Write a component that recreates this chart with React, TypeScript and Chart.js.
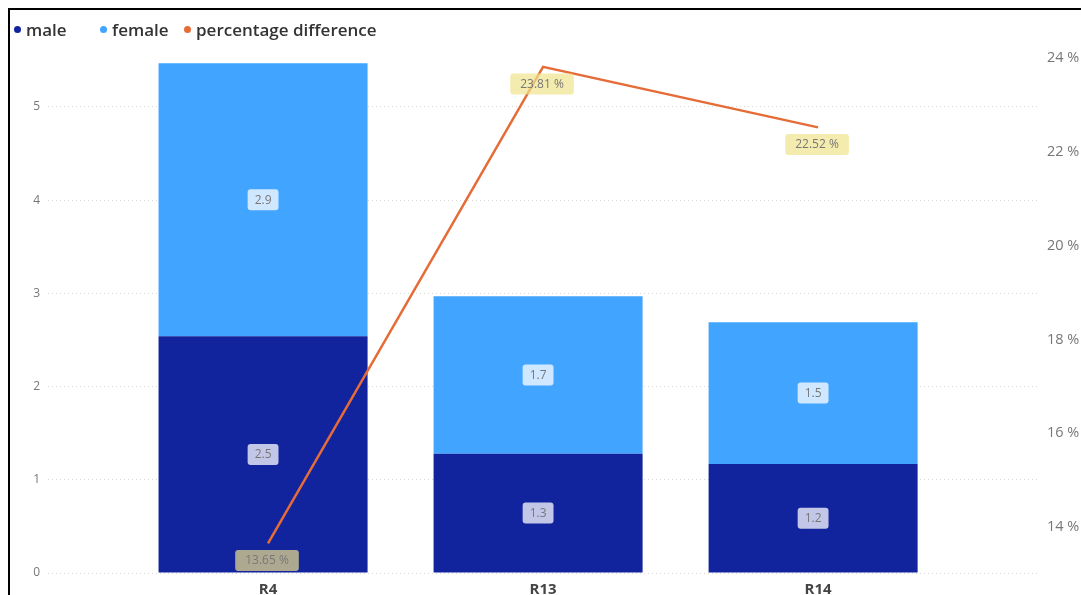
import React, { useEffect, useRef } from "react";
import { Chart, registerables } from "chart.js";

Chart.register(...registerables);

// ---- data ----
const categories = ["R4", "R13", "R14"];
const maleValues = [2.54, 1.28, 1.17];
const femaleValues = [2.93, 1.69, 1.52];
const pctDifference = [13.65, 23.81, 22.52];
const leftTickValues = [0, 1, 2, 3, 4, 5];
const rightTickValues = [14, 16, 18, 20, 22, 24];
const seriesNames = ["male", "female", "percentage difference"];

// ---- style ----
const MALE = "#12239E";
const FEMALE = "#41A4FF";
const ORANGE = "#E66C37";
const FONT = "'Open Sans', 'Noto Sans', 'DejaVu Sans', sans-serif";

function roundRect(ctx: CanvasRenderingContext2D, x: number, y: number, w: number, h: number, r: number) {
  ctx.beginPath();
  ctx.moveTo(x + r, y);
  ctx.lineTo(x + w - r, y);
  ctx.quadraticCurveTo(x + w, y, x + w, y + r);
  ctx.lineTo(x + w, y + h - r);
  ctx.quadraticCurveTo(x + w, y + h, x + w - r, y + h);
  ctx.lineTo(x + r, y + h);
  ctx.quadraticCurveTo(x, y + h, x, y + h - r);
  ctx.lineTo(x, y + r);
  ctx.quadraticCurveTo(x, y, x + r, y);
  ctx.closePath();
}

const labelPlugin = {
  id: "valueLabels",
  afterDatasetsDraw(chart: any) {
    const ctx: CanvasRenderingContext2D = chart.ctx;
    ctx.save();
    ctx.font = `12px ${FONT}`;
    ctx.textAlign = "center";
    ctx.textBaseline = "middle";
    chart.data.datasets.forEach((ds: any, di: number) => {
      const meta = chart.getDatasetMeta(di);
      meta.data.forEach((el: any, i: number) => {
        const raw = ds.data[i];
        const v = typeof raw === "object" ? raw.y : raw;
        let text: string;
        let cx: number;
        let cy: number;
        let bg: string;
        let pad: number;
        if (ds.type === "line") {
          text = v.toFixed(2) + " %";
          cx = el.x - 1;
          cy = el.y + 17;
          bg = "rgba(240, 226, 140, 0.7)";
          pad = 20;
        } else {
          text = v.toFixed(1);
          cx = el.x;
          cy = (el.y + el.base) / 2;
          bg = "rgba(255, 255, 255, 0.75)";
          pad = 14;
        }
        const tw = ctx.measureText(text).width;
        const w = tw + pad;
        const h = 21;
        ctx.fillStyle = bg;
        roundRect(ctx, cx - w / 2, cy - h / 2, w, h, 3);
        ctx.fill();
        ctx.fillStyle = "#777";
        ctx.fillText(text, cx, cy + 0.5);
      });
    });
    ctx.restore();
  },
};

const indexTicks = (axis: any) => {
  axis.ticks = categories.map((_, i) => ({ value: i }));
};

export default function App() {
  const ref = useRef<HTMLCanvasElement | null>(null);

  useEffect(() => {
    if (!ref.current) return;
    const chart = new Chart(ref.current, {
      type: "bar",
      data: {
        datasets: [
          {
            type: "line",
            label: seriesNames[2],
            data: pctDifference.map((v, i) => ({ x: i, y: v })),
            xAxisID: "x",
            yAxisID: "y2",
            borderColor: ORANGE,
            backgroundColor: ORANGE,
            borderWidth: 2.5,
            pointRadius: 0,
            tension: 0,
            order: 0,
          } as any,
          {
            type: "bar",
            label: seriesNames[0],
            data: maleValues.map((v, i) => ({ x: i, y: v })),
            xAxisID: "xBar",
            yAxisID: "y",
            stack: "gender",
            grouped: false,
            backgroundColor: MALE,
            barPercentage: 0.76,
            categoryPercentage: 1,
            order: 1,
          },
          {
            type: "bar",
            label: seriesNames[1],
            data: femaleValues.map((v, i) => ({ x: i, y: v })),
            xAxisID: "xBar",
            yAxisID: "y",
            stack: "gender",
            grouped: false,
            backgroundColor: FEMALE,
            barPercentage: 0.76,
            categoryPercentage: 1,
            order: 1,
          },
        ],
      },
      options: {
        animation: false,
        responsive: false,
        devicePixelRatio: 1,
        layout: { padding: { top: 35, left: 0, right: 0, bottom: 0 } },
        plugins: {
          legend: { display: false },
          tooltip: { enabled: false },
        },
        scales: {
          x: {
            type: "linear",
            position: "bottom",
            offset: false,
            min: -0.8,
            max: 2.807,
            afterBuildTicks: indexTicks,
            afterFit: (axis: any) => {
              axis.height = 37;
            },
            grid: { display: false, drawTicks: false, offset: false },
            border: { display: false },
            ticks: {
              padding: 8,
              color: "#444",
              autoSkip: false,
              font: { family: FONT, size: 15, weight: "bold" },
              callback: (v: any) => categories[v] ?? "",
              maxRotation: 0,
            },
          },
          xBar: {
            type: "linear",
            position: "bottom",
            display: false,
            offset: false,
            stacked: true,
            min: -0.782,
            max: 2.825,
            afterBuildTicks: indexTicks,
            grid: { offset: false },
          },
          y: {
            type: "linear",
            position: "left",
            stacked: true,
            min: 0,
            max: 5.665,
            afterBuildTicks: (axis: any) => {
              axis.ticks = leftTickValues.map((v) => ({ value: v }));
            },
            afterFit: (axis: any) => {
              axis.width = 38;
            },
            grid: {
              color: "#d8d8d8",
              lineWidth: 1,
              drawTicks: false,
            },
            border: { display: false, dash: [1, 3] },
            ticks: {
              padding: 8,
              color: "#777",
              font: { family: FONT, size: 12 },
            },
          },
          y2: {
            type: "linear",
            position: "right",
            min: 13.019,
            max: 24.277,
            afterBuildTicks: (axis: any) => {
              axis.ticks = rightTickValues.map((v) => ({ value: v }));
            },
            afterFit: (axis: any) => {
              axis.width = 60;
            },
            grid: { display: false, drawTicks: false },
            border: { display: false },
            ticks: {
              padding: 7,
              color: "#777",
              font: { family: FONT, size: 14.5 },
              callback: (v: any) => v + " %",
            },
          },
        },
      } as any,
      plugins: [labelPlugin],
    });
    return () => chart.destroy();
  }, []);

  const legendItems = [
    { name: seriesNames[0], color: MALE, left: 4 },
    { name: seriesNames[1], color: FEMALE, left: 90 },
    { name: seriesNames[2], color: ORANGE, left: 174 },
  ];

  return (
    <div
      style={{
        position: "fixed",
        left: 8,
        top: 8,
        width: 1100,
        height: 600,
        borderTop: "2px solid #000",
        borderLeft: "2px solid #000",
        background: "#fff",
        overflow: "hidden",
      }}
    >
      <canvas
        ref={ref}
        width={1090}
        height={600}
        style={{ position: "absolute", left: 0, top: 0, width: 1090, height: 600 }}
      />
      {legendItems.map((it) => (
        <div
          key={it.name}
          style={{
            position: "absolute",
            left: it.left,
            top: 8,
            height: 22,
            display: "flex",
            alignItems: "center",
            fontFamily: FONT,
            fontSize: 17,
            fontWeight: 600,
            color: "#333",
            whiteSpace: "nowrap",
          }}
        >
          <span
            style={{
              display: "inline-block",
              width: 7,
              height: 7,
              borderRadius: "50%",
              background: it.color,
              marginRight: 5,
            }}
          />
          {it.name}
        </div>
      ))}
    </div>
  );
}
